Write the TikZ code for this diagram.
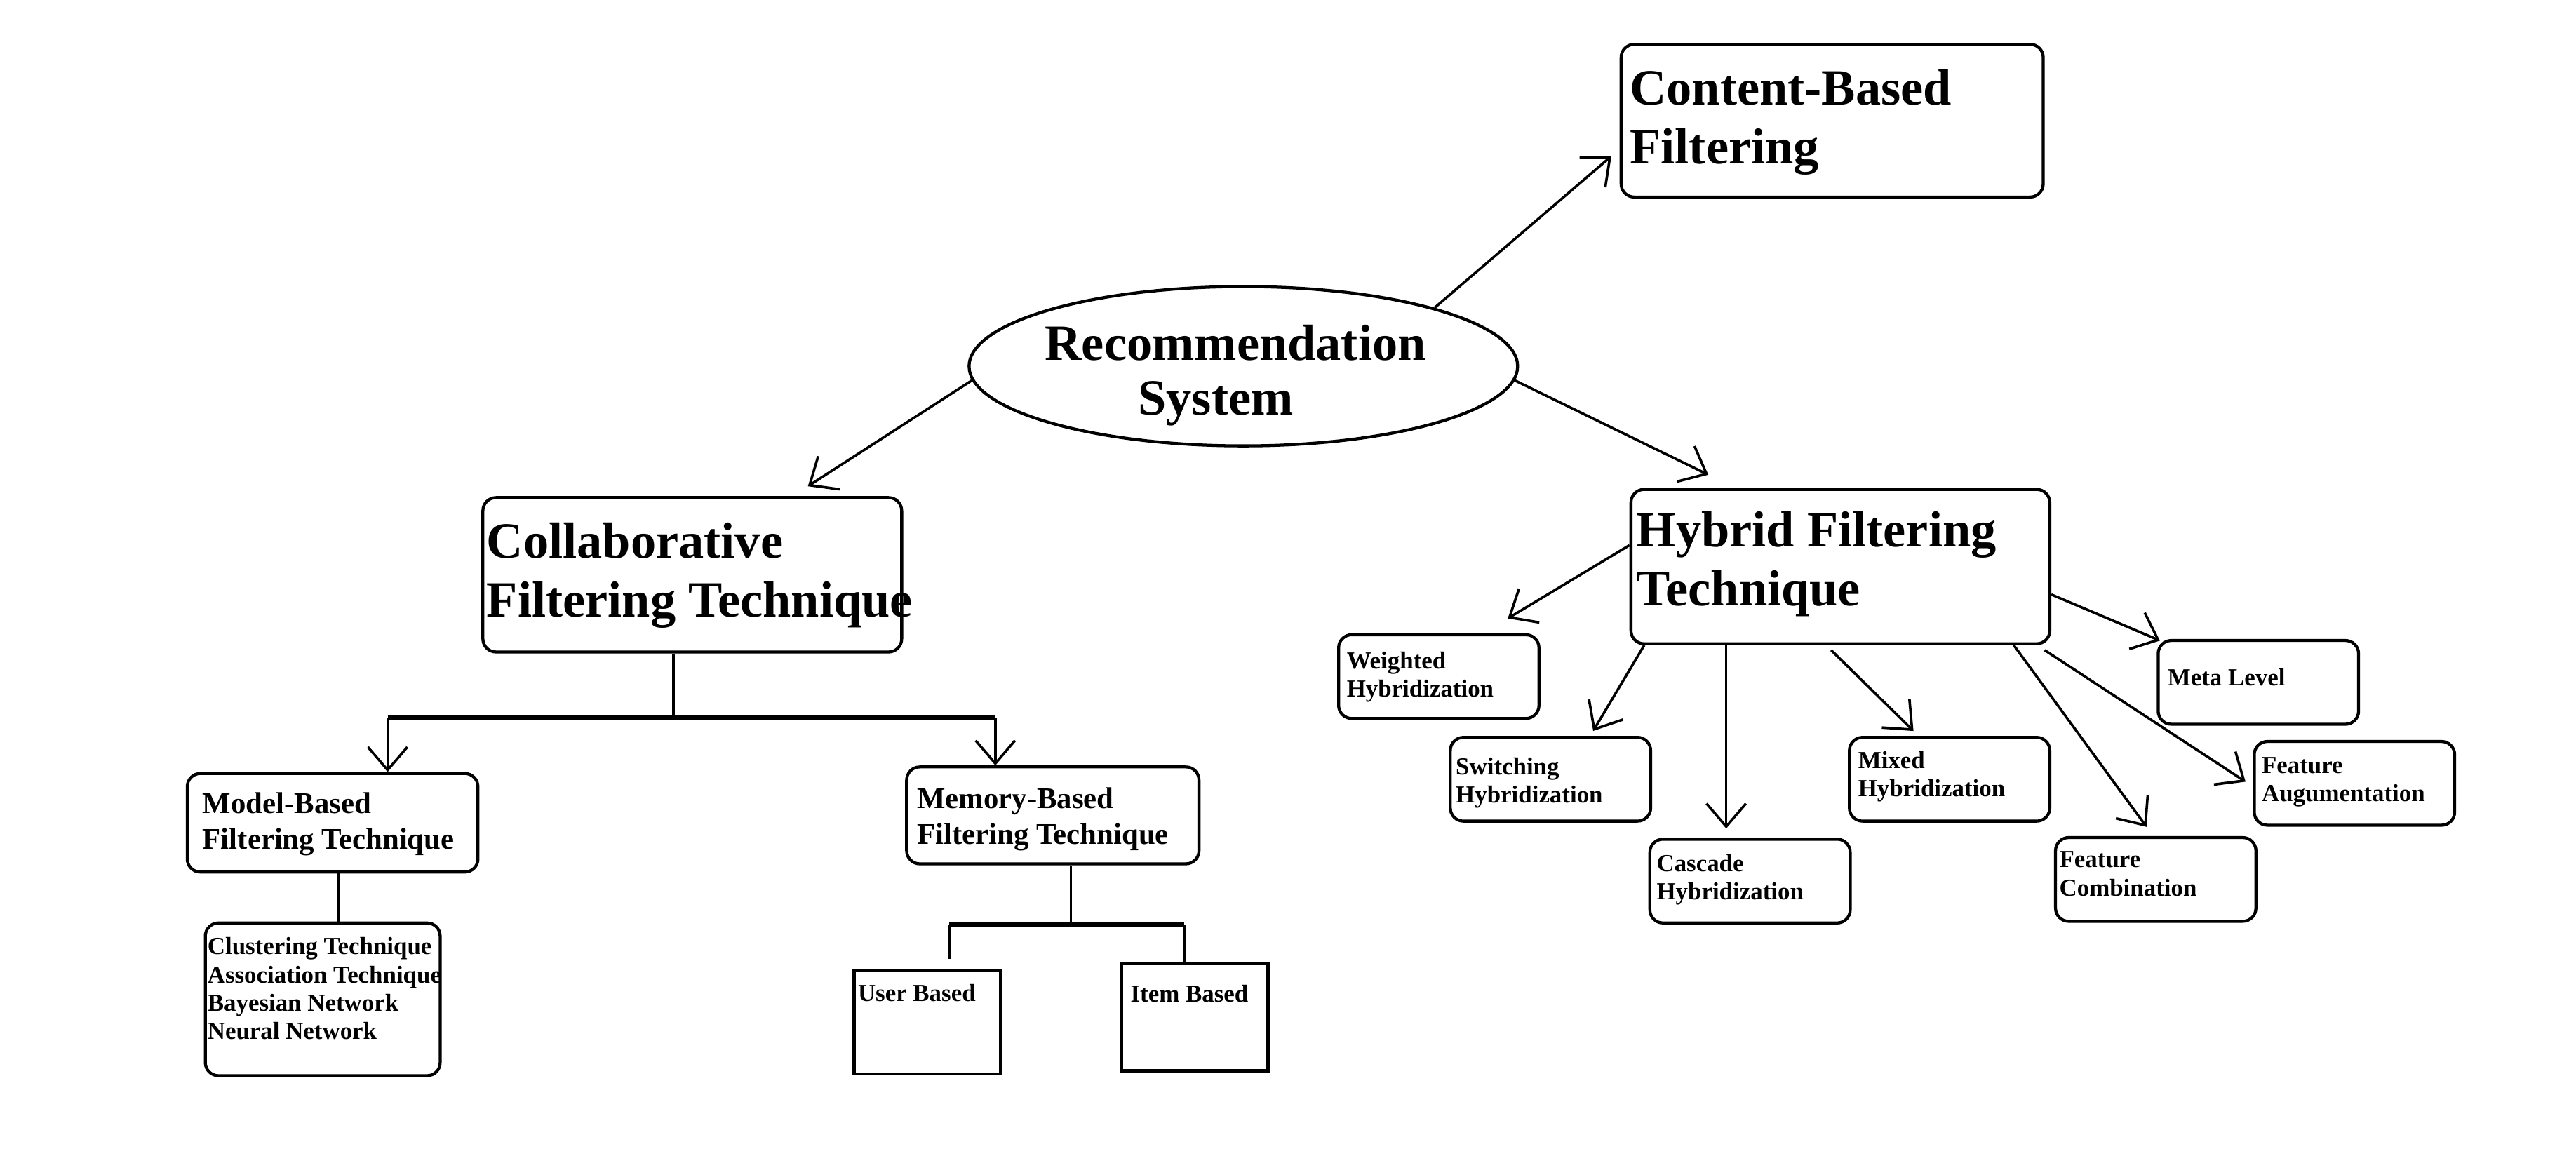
\documentclass[tikz,border=0pt]{standalone}
\usepackage{fontspec}
\setmainfont{Liberation Serif}
\usetikzlibrary{shapes, arrows.meta, calc}
\tikzstyle{rounded} = [rectangle, draw, rounded corners=2mm, line width=1.3pt, inner sep=0pt]
\tikzstyle{box} = [rectangle, draw, line width=1.3pt, inner sep=0pt]
\tikzstyle{oval} = [ellipse, draw, line width=1.3pt, inner sep=0pt]
\tikzstyle{line} = [draw, line width=1.1pt, -{Straight Barb[length=3.5mm,width=6mm]}]
\tikzstyle{wire} = [draw, line width=1.1pt]
\tikzstyle{bigtxt} = [font=\fontsize{22}{25.5}\selectfont\bfseries, align=left, inner sep=0pt, anchor=north west]
\tikzstyle{midtxt} = [font=\fontsize{13}{15.5}\selectfont\bfseries, align=left, inner sep=0pt, anchor=north west]
\tikzstyle{smalltxt} = [font=\fontsize{10.6}{12.2}\selectfont\bfseries, align=left, inner sep=0pt, anchor=north west]
\tikzstyle{leaf} = [rounded, minimum width=3.05cm, minimum height=1.275cm]

\begin{document}
\begin{tikzpicture}
    \useasboundingbox (0,-0.095) rectangle (39.21,17.6);

    \node [oval, minimum width=8.35cm, minimum height=2.425cm, label={[font=\fontsize{22}{23.6}\selectfont\bfseries, align=center, inner sep=0pt, anchor=center, xshift=-0.12cm, yshift=-0.14cm]center:Recommendation\\System\hspace*{0.6cm}}] (rs) at (18.925,12.025) {};
    \node [rounded, minimum width=6.425cm, minimum height=2.325cm, label={[bigtxt, xshift=0.15cm, yshift=-0.4cm]north west:Content-Based\\Filtering}] (cbf) at (27.8875,15.7625) {};
    \node [rounded, minimum width=6.375cm, minimum height=2.35cm, label={[bigtxt, xshift=0.075cm, yshift=-0.4cm]north west:Collaborative\\Filtering Technique}] (cft) at (10.5375,8.85) {};
    \node [rounded, minimum width=6.375cm, minimum height=2.35cm, label={[bigtxt, xshift=0.1cm, yshift=-0.35cm]north west:Hybrid Filtering\\Technique}] (hft) at (28.0125,8.975) {};

    % collaborative side
    \node [rounded, minimum width=4.425cm, minimum height=1.5cm, label={[midtxt, xshift=0.25cm, yshift=-0.3cm]north west:Model-Based\\Filtering Technique}] (mbf) at (5.0625,5.075) {};
    \node [rounded, minimum width=4.45cm, minimum height=1.475cm, label={[midtxt, xshift=0.175cm, yshift=-0.33cm]north west:Memory-Based\\Filtering Technique}] (mem) at (16.025,5.1875) {};
    \node [rounded, minimum width=3.575cm, minimum height=2.325cm, label={[smalltxt, xshift=0.05cm, yshift=-0.24cm]north west:Clustering Technique\\Association Technique\\Bayesian Network\\Neural Network}] (mbl) at (4.9125,2.3875) {};
    \node [box, minimum width=2.225cm, minimum height=1.575cm, label={[smalltxt, xshift=0.075cm, yshift=-0.23cm]north west:User Based}] (ub) at (14.1125,2.0375) {};
    \node [box, minimum width=2.225cm, minimum height=1.625cm, label={[smalltxt, xshift=0.15cm, yshift=-0.34cm]north west:Item Based}] (ib) at (18.1875,2.1125) {};

    % hybrid side
    \node [leaf, label={[smalltxt, xshift=0.14cm, yshift=-0.28cm]north west:Weighted\\Hybridization}] (whb) at (21.9,7.3) {};
    \node [leaf, label={[smalltxt, xshift=0.1cm, yshift=-0.33cm]north west:Switching\\Hybridization}] (shb) at (23.6,5.7375) {};
    \node [leaf, label={[smalltxt, xshift=0.12cm, yshift=-0.245cm]north west:Cascade\\Hybridization}] (chb) at (26.6375,4.1875) {};
    \node [leaf, label={[smalltxt, xshift=0.15cm, yshift=-0.23cm]north west:Mixed\\Hybridization}] (mhb) at (29.675,5.7375) {};
    \node [leaf, label={[smalltxt, xshift=0.075cm, yshift=-0.23cm]north west:Feature\\Combination}] (fcb) at (32.8125,4.2125) {};
    \node [leaf, label={[smalltxt, xshift=0.16cm, yshift=-0.44cm]north west:Meta Level}] (mlb) at (34.375,7.2125) {};
    \node [leaf, label={[smalltxt, xshift=0.13cm, yshift=-0.26cm]north west:Feature\\Augumentation}] (fab) at (35.8375,5.675) {};

    \path [line] (rs.17.8) -- ($(cbf.west)+(-0.125,-0.54)$);
    \path [line] (rs.183) -- ($(cft.north)+(1.76,0.15)$);
    \path [line] (rs.-3.4) -- ($(hft.north)+(-2.01,0.2)$);

    \coordinate (cjoin) at (10.25,6.675);
    \coordinate (cl) at (5.9,6.675);
    \coordinate (cr) at (15.15,6.675);
    \path [wire] (cft.south -| cjoin) -- (cjoin);
    \path [wire, line width=1.6pt] (cl) -- (cr);
    \path [line] (cl) -- (cl |- mbf.north);
    \path [line] (cr) -- (cr |- mem.north);

    \coordinate (mlink) at (5.15,0);
    \path [wire] (mbf.south -| mlink) -- (mbl.north -| mlink);

    \coordinate (mjoin) at (16.3,3.525);
    \coordinate (ml) at (14.45,3.525);
    \coordinate (mr) at (18.025,3.525);
    \path [wire] (mem.south -| mjoin) -- (mjoin);
    \path [wire, line width=1.6pt] (ml) -- (mr);
    \path [wire] (ml) -- ($(ml |- ub.north)+(0,0.15)$);
    \path [wire] (mr) -- (mr |- ib.north);

    \coordinate (cx) at (26.275,0);
    \path [line] ($(hft.west)+(0,0.325)$) -- ($(whb.north)+(1.05,0.225)$);
    \path [line] ($(hft.south west)+(0.225,0)$) -- ($(shb.north)+(0.65,0.075)$);
    \path [line] (hft.south -| cx) -- ($(chb.north -| cx)+(0,0.14)$);
    \path [line] ($(hft.south)+(-0.14,-0.075)$) -- ($(mhb.north)+(-0.55,0.075)$);
    \path [line] ($(hft.south)+(2.64,0)$) -- ($(fcb.north)+(-0.14,0.14)$);
    \path [line] ($(hft.south east)+(-0.1,-0.075)$) -- ($(fab.west)+(-0.11,0.025)$);
    \path [line] ($(hft.east)+(0,-0.425)$) -- ($(mlb.north west)+(0.05,-0.025)$);

  \end{tikzpicture}
\end{document}
